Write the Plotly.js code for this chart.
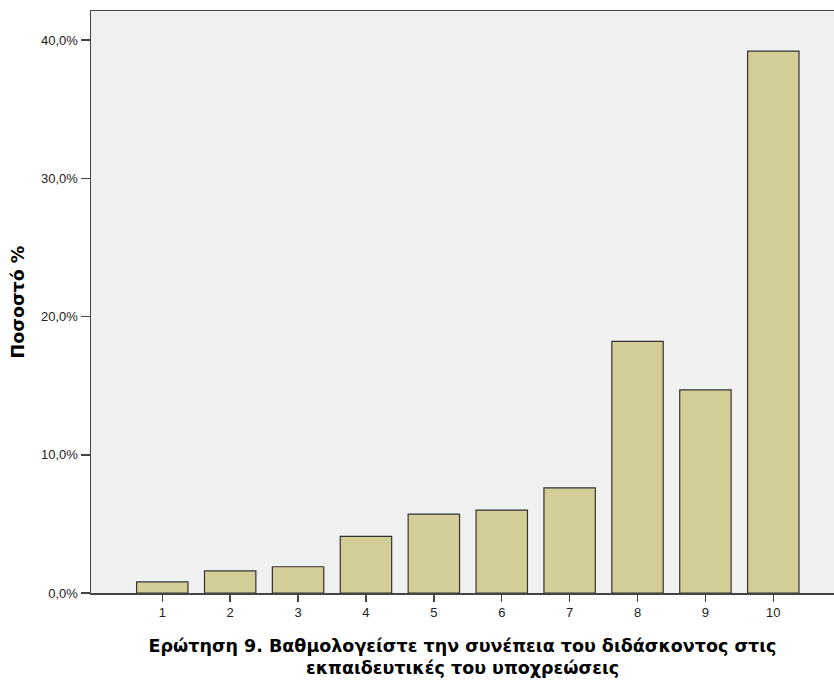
<!DOCTYPE html>
<html>
<head>
<meta charset="utf-8">
<script src="https://cdn.plot.ly/plotly-3.0.1.min.js"></script>
<style>html,body{margin:0;padding:0;background:#fff;}#chart{width:834px;height:681px;}</style>
</head>
<body>
<div id="chart"></div>
<script>
const categories = ["1","2","3","4","5","6","7","8","9","10"];
const percentages = [0.8, 1.6, 1.9, 4.1, 5.7, 6.0, 7.6, 18.2, 14.7, 39.2];
const xTitle = "Ερώτηση 9. Βαθμολογείστε την συνέπεια του διδάσκοντος στις<br>εκπαιδευτικές του υποχρεώσεις";
const yTitle = "Ποσοστό %";
const yTicks = [0, 10, 20, 30, 40];
const yTickText = ["0,0%", "10,0%", "20,0%", "30,0%", "40,0%"];

const trace = {
  type: "bar",
  x: categories,
  y: percentages,
  width: 0.757,
  marker: {color: "#d3ce97", line: {color: "#333333", width: 1.2}},
  hoverinfo: "x+y"
};

const layout = {
  width: 834, height: 681,
  margin: {l: 91, r: 0, t: 11, b: 88},
  paper_bgcolor: "#ffffff",
  plot_bgcolor: "#f0f0f0",
  font: {family: "Liberation Sans, Arial, sans-serif", size: 13, color: "#222"},
  showlegend: false,
  xaxis: {
    type: "category",
    range: [-1.05, 9.894],
    showgrid: false, zeroline: false,
    showline: true, linecolor: "#444", linewidth: 1.5, mirror: true,
    ticks: "outside", ticklen: 7, tickcolor: "#444", tickwidth: 1.5,
    tickfont: {size: 13, color: "#222"},
    title: {text: xTitle, font: {family: "DejaVu Sans, sans-serif", size: 17.5, color: "#000", weight: "bold"}, standoff: 20}
  },
  yaxis: {
    range: [0, 42.1],
    tickvals: yTicks,
    ticktext: yTickText,
    showgrid: false, zeroline: false,
    showline: true, linecolor: "#444", linewidth: 1.5, mirror: true,
    ticks: "outside", ticklen: 9, tickcolor: "#444", tickwidth: 1.5,
    tickfont: {size: 13, color: "#222"},
    title: {text: yTitle, font: {family: "DejaVu Sans, sans-serif", size: 17.5, color: "#000", weight: "bold"}, standoff: 12}
  }
};

Plotly.newPlot("chart", [trace], layout, {displayModeBar: false, staticPlot: true});
</script>
</body>
</html>
